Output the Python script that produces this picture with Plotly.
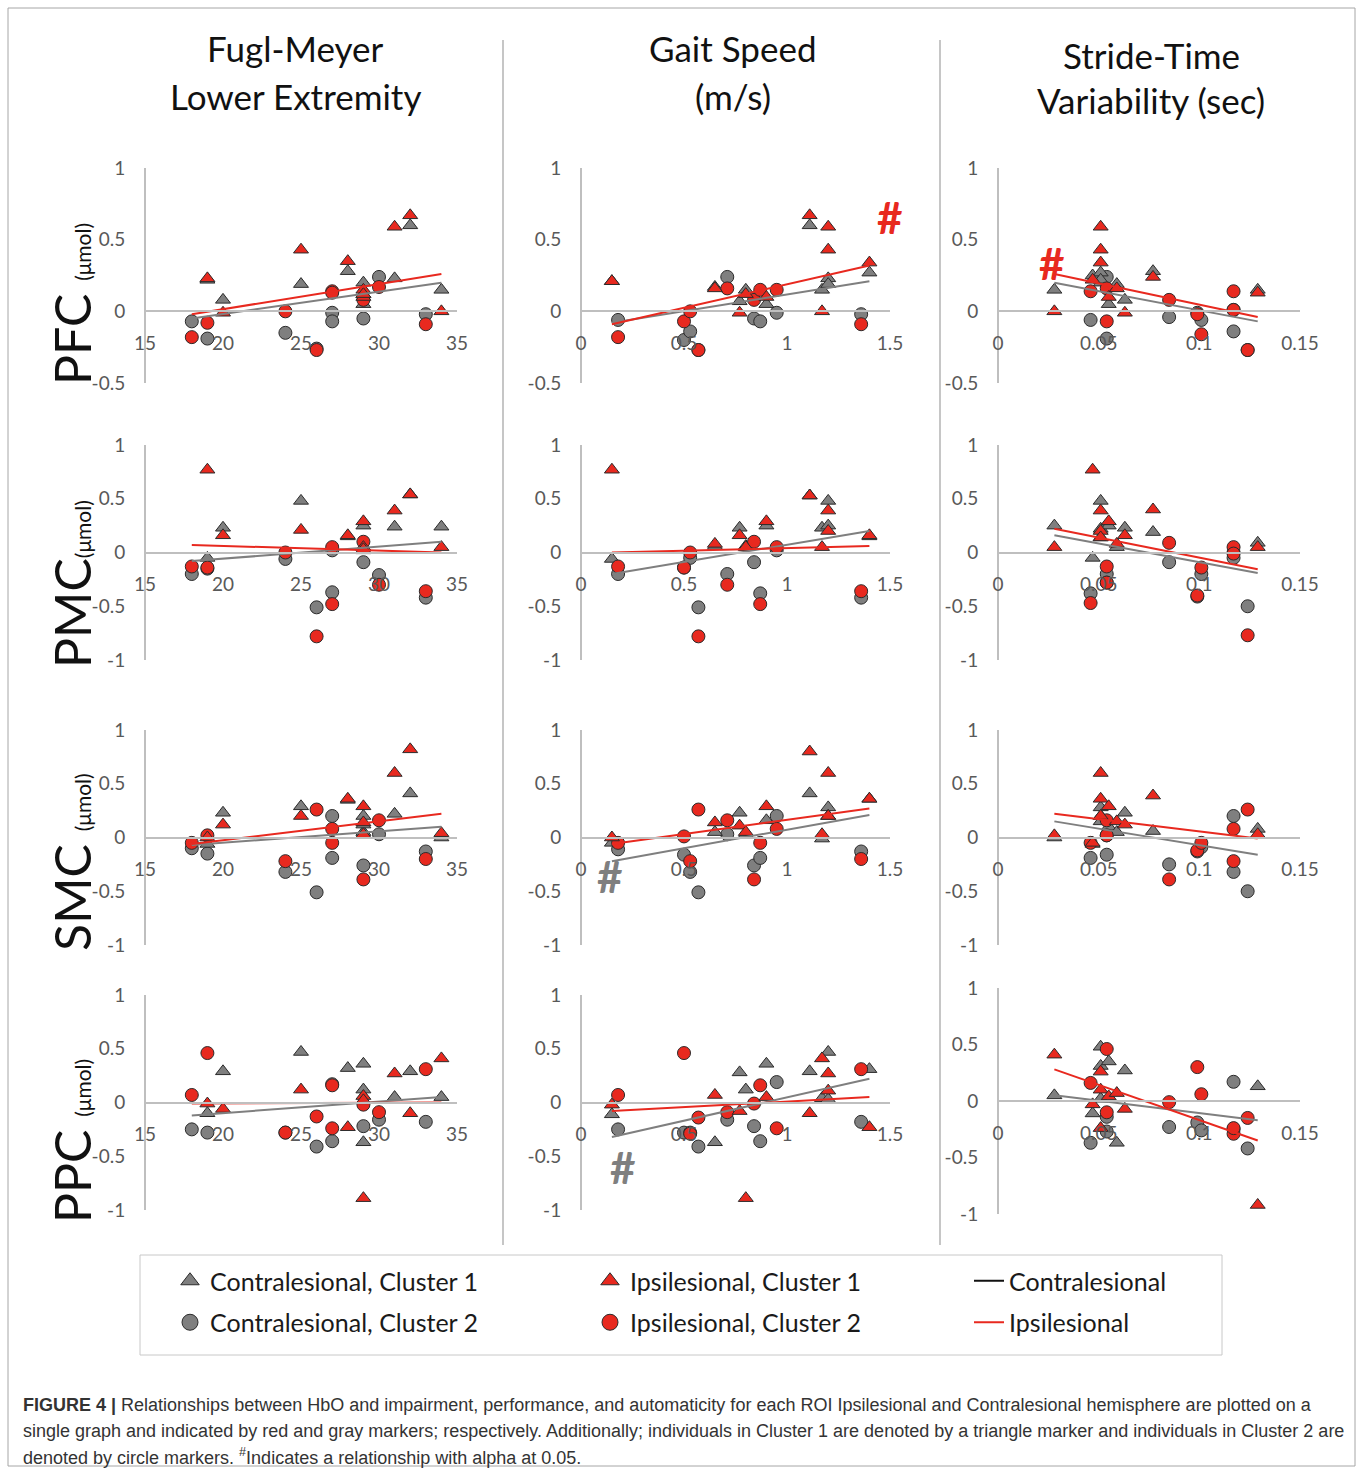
import plotly.graph_objects as go

W, H = 1360, 1473

# ---------------- text ----------------
COL_TITLES = [["Fugl-Meyer", "Lower Extremity"], ["Gait Speed", "(m/s)"], ["Stride-Time", "Variability (sec)"]]
ROW_NAMES = ["PFC", "PMC", "SMC", "PPC"]
ROW_SEP = [" ", "", " ", " "]
UNIT = "(μmol)"
X_TICKS = [[15, 20, 25, 30, 35], [0, 0.5, 1, 1.5], [0, 0.05, 0.1, 0.15]]
X_TICK_TEXT = [["15", "20", "25", "30", "35"], ["0", "0.5", "1", "1.5"], ["0", "0.05", "0.1", "0.15"]]
X_RANGES = [[15, 35], [0, 1.5], [0, 0.15]]
Y_TICKS_TOP = [-0.5, 0, 0.5, 1]
Y_TICK_TEXT_TOP = ["-0.5", "0", "0.5", "1"]
Y_TICKS = [-1, -0.5, 0, 0.5, 1]
Y_TICK_TEXT = ["-1", "-0.5", "0", "0.5", "1"]
LEGEND_NAMES = ["Contralesional, Cluster 1", "Contralesional, Cluster 2",
                "Ipsilesional, Cluster 1", "Ipsilesional, Cluster 2",
                "Contralesional", "Ipsilesional"]
CAPTION = [
    "<b>FIGURE 4 |</b> Relationships between HbO and impairment, performance, and automaticity for each ROI Ipsilesional and Contralesional hemisphere are plotted on a",
    "single graph and indicated by red and gray markers; respectively. Additionally; individuals in Cluster 1 are denoted by a triangle marker and individuals in Cluster 2 are",
    "denoted by circle markers. <sup>#</sup>Indicates a relationship with alpha at 0.05.",
]

# ---------------- x values (subjects) per column ----------------
FM_C1 = [19, 20, 25, 28, 29, 29, 29, 31, 32, 34]
FM_C2 = [18, 19, 24, 26, 27, 27, 29, 30, 33]
GS_C1 = [0.15, 0.65, 0.77, 0.80, 0.90, 1.11, 1.17, 1.20, 1.20, 1.40]
GS_C2 = [0.18, 0.50, 0.53, 0.57, 0.71, 0.84, 0.87, 0.95, 1.36]
ST_C1 = [0.028, 0.047, 0.051, 0.051, 0.051, 0.055, 0.059, 0.063, 0.077, 0.129]
ST_C2 = [0.046, 0.054, 0.054, 0.085, 0.099, 0.101, 0.117, 0.117, 0.124]

# ---------------- HbO values ----------------
PFC_FM_CON_C1 = [0.22, 0.08, 0.19, 0.28, 0.20, 0.05, 0.12, 0.23, 0.60, 0.15]
PFC_FM_IPS_C1 = [0.23, -0.01, 0.43, 0.35, 0.15, 0.10, 0.12, 0.59, 0.67, 0.00]
PFC_FM_CON_C2 = [-0.07, -0.19, -0.15, -0.26, -0.01, -0.07, -0.05, 0.24, -0.02]
PFC_FM_IPS_C2 = [-0.18, -0.08, 0.00, -0.27, 0.14, 0.13, 0.08, 0.17, -0.09]
PFC_GS_CON_C1 = [0.21, 0.17, 0.07, 0.15, 0.05, 0.60, 0.15, 0.23, 0.19, 0.27]
PFC_GS_IPS_C1 = [0.21, 0.16, -0.01, 0.12, 0.10, 0.67, 0.00, 0.59, 0.43, 0.34]
PFC_GS_CON_C2 = [-0.06, -0.20, -0.14, -0.27, 0.24, -0.05, -0.07, -0.01, -0.02]
PFC_GS_IPS_C2 = [-0.18, -0.07, 0.00, -0.27, 0.16, 0.08, 0.15, 0.15, -0.09]
PFC_ST_CON_C1 = [0.15, 0.25, 0.27, 0.20, 0.22, 0.05, 0.19, 0.08, 0.28, 0.15]
PFC_ST_IPS_C1 = [0.00, 0.22, 0.59, 0.43, 0.34, 0.10, 0.16, -0.01, 0.24, 0.13]
PFC_ST_CON_C2 = [-0.06, 0.24, -0.19, -0.04, -0.01, -0.06, -0.14, 0.01, -0.27]
PFC_ST_IPS_C2 = [0.14, -0.07, 0.16, 0.08, -0.02, -0.16, 0.14, 0.01, -0.27]

PMC_FM_CON_C1 = [-0.05, 0.23, 0.48, 0.15, 0.25, 0.05, 0.02, 0.24, 0.54, 0.24]
PMC_FM_IPS_C1 = [0.77, 0.16, 0.21, 0.16, 0.29, 0.05, 0.03, 0.39, 0.54, 0.05]
PMC_FM_CON_C2 = [-0.20, -0.15, -0.06, -0.51, -0.37, 0.02, -0.09, -0.21, -0.42]
PMC_FM_IPS_C2 = [-0.13, -0.14, 0.00, -0.78, -0.48, 0.05, 0.10, -0.30, -0.36]
PMC_GS_CON_C1 = [-0.06, 0.06, 0.23, 0.06, 0.25, 0.53, 0.23, 0.48, 0.25, 0.15]
PMC_GS_IPS_C1 = [0.77, 0.08, 0.16, 0.05, 0.29, 0.53, 0.05, 0.39, 0.20, 0.16]
PMC_GS_CON_C2 = [-0.20, -0.14, -0.05, -0.51, -0.20, -0.09, -0.38, 0.02, -0.42]
PMC_GS_IPS_C2 = [-0.13, -0.14, 0.00, -0.78, -0.30, 0.10, -0.48, 0.05, -0.36]
PMC_ST_CON_C1 = [0.25, -0.05, 0.48, 0.14, 0.22, 0.25, 0.05, 0.23, 0.19, 0.09]
PMC_ST_IPS_C1 = [0.05, 0.77, 0.39, 0.20, 0.14, 0.29, 0.08, 0.16, 0.40, 0.05]
PMC_ST_CON_C2 = [-0.38, -0.20, -0.28, -0.09, -0.41, -0.20, -0.05, 0.00, -0.50]
PMC_ST_IPS_C2 = [-0.47, -0.13, -0.28, 0.09, -0.40, -0.14, 0.05, -0.01, -0.77]

SMC_FM_CON_C1 = [-0.06, 0.23, 0.29, 0.35, 0.20, 0.05, 0.12, 0.22, 0.41, 0.00]
SMC_FM_IPS_C1 = [0.00, 0.12, 0.20, 0.36, 0.29, 0.14, 0.03, 0.60, 0.82, 0.04]
SMC_FM_CON_C2 = [-0.10, -0.15, -0.32, -0.51, 0.20, -0.19, -0.26, 0.03, -0.13]
SMC_FM_IPS_C2 = [-0.05, 0.02, -0.22, 0.26, 0.08, -0.05, -0.39, 0.16, -0.20]
SMC_GS_CON_C1 = [-0.05, 0.05, 0.23, 0.03, 0.16, 0.41, -0.01, 0.28, 0.20, 0.36]
SMC_GS_IPS_C1 = [0.00, 0.14, 0.11, 0.05, 0.29, 0.80, 0.03, 0.60, 0.20, 0.36]
SMC_GS_CON_C2 = [-0.11, -0.16, -0.32, -0.51, 0.03, -0.26, -0.19, 0.20, -0.13]
SMC_GS_IPS_C2 = [-0.05, 0.01, -0.22, 0.26, 0.16, -0.39, -0.05, 0.08, -0.20]
SMC_ST_CON_C1 = [0.00, -0.06, 0.28, 0.20, 0.15, 0.10, 0.05, 0.23, 0.06, 0.08]
SMC_ST_IPS_C1 = [0.02, -0.05, 0.60, 0.36, 0.20, 0.29, 0.15, 0.12, 0.39, 0.03]
SMC_ST_CON_C2 = [-0.19, -0.16, 0.02, -0.25, -0.13, -0.09, 0.20, -0.32, -0.50]
SMC_ST_IPS_C2 = [-0.05, 0.16, 0.02, -0.39, -0.12, -0.05, 0.08, -0.22, 0.26]

PPC_FM_CON_C1 = [-0.10, 0.29, 0.47, 0.32, 0.36, 0.12, -0.37, 0.05, 0.29, 0.05]
PPC_FM_IPS_C1 = [-0.01, -0.06, 0.12, -0.23, 0.06, -0.89, 0.02, 0.27, -0.10, 0.41]
PPC_FM_CON_C2 = [-0.25, -0.28, -0.28, -0.41, -0.36, 0.17, -0.22, -0.16, -0.18]
PPC_FM_IPS_C2 = [0.07, 0.46, -0.28, -0.13, 0.16, -0.24, -0.02, -0.09, 0.31]
PPC_GS_CON_C1 = [-0.11, -0.37, 0.28, 0.12, 0.36, 0.29, 0.04, 0.47, 0.03, 0.31]
PPC_GS_IPS_C1 = [-0.02, 0.07, -0.08, -0.89, 0.05, -0.10, 0.41, 0.27, 0.11, -0.23]
PPC_GS_CON_C2 = [-0.25, -0.28, -0.28, -0.41, -0.16, -0.22, -0.36, 0.19, -0.18]
PPC_GS_IPS_C2 = [0.07, 0.46, -0.29, -0.14, -0.09, -0.01, 0.16, -0.24, 0.31]
PPC_ST_CON_C1 = [0.05, -0.11, 0.48, 0.31, 0.02, 0.35, -0.37, 0.27, None, 0.13]
PPC_ST_IPS_C1 = [0.41, -0.03, 0.26, 0.10, -0.24, 0.04, 0.07, -0.07, None, -0.92]
PPC_ST_CON_C2 = [-0.37, -0.14, -0.27, -0.23, -0.19, -0.26, 0.17, -0.25, -0.42]
PPC_ST_IPS_C2 = [0.16, 0.46, -0.10, -0.01, 0.30, 0.06, -0.29, -0.24, -0.15]

# ---------------- trend lines (value at min x, value at max x) ----------------
PFC_FM_TREND_CON = [-0.05, 0.20]
PFC_FM_TREND_IPS = [-0.02, 0.26]
PFC_GS_TREND_CON = [-0.08, 0.21]
PFC_GS_TREND_IPS = [-0.09, 0.32]
PFC_ST_TREND_CON = [0.20, -0.07]
PFC_ST_TREND_IPS = [0.26, -0.04]
PMC_FM_TREND_CON = [-0.08, 0.10]
PMC_FM_TREND_IPS = [0.07, 0.00]
PMC_GS_TREND_CON = [-0.20, 0.20]
PMC_GS_TREND_IPS = [0.00, 0.06]
PMC_ST_TREND_CON = [0.16, -0.19]
PMC_ST_TREND_IPS = [0.22, -0.155]
SMC_FM_TREND_CON = [-0.07, 0.10]
SMC_FM_TREND_IPS = [-0.06, 0.22]
SMC_GS_TREND_CON = [-0.22, 0.21]
SMC_GS_TREND_IPS = [-0.06, 0.27]
SMC_ST_TREND_CON = [0.15, -0.16]
SMC_ST_TREND_IPS = [0.22, -0.01]
PPC_FM_TREND_CON = [-0.12, 0.05]
PPC_FM_TREND_IPS = [-0.01, 0.00]
PPC_GS_TREND_CON = [-0.32, 0.22]
PPC_GS_TREND_IPS = [-0.08, 0.05]
PPC_ST_TREND_CON = [0.05, -0.17]
PPC_ST_TREND_IPS = [0.28, -0.35]

X_COLS = [(FM_C1, FM_C2), (GS_C1, GS_C2), (ST_C1, ST_C2)]
GRID = [
    [(PFC_FM_CON_C1, PFC_FM_IPS_C1, PFC_FM_CON_C2, PFC_FM_IPS_C2, PFC_FM_TREND_CON, PFC_FM_TREND_IPS),
     (PFC_GS_CON_C1, PFC_GS_IPS_C1, PFC_GS_CON_C2, PFC_GS_IPS_C2, PFC_GS_TREND_CON, PFC_GS_TREND_IPS),
     (PFC_ST_CON_C1, PFC_ST_IPS_C1, PFC_ST_CON_C2, PFC_ST_IPS_C2, PFC_ST_TREND_CON, PFC_ST_TREND_IPS)],
    [(PMC_FM_CON_C1, PMC_FM_IPS_C1, PMC_FM_CON_C2, PMC_FM_IPS_C2, PMC_FM_TREND_CON, PMC_FM_TREND_IPS),
     (PMC_GS_CON_C1, PMC_GS_IPS_C1, PMC_GS_CON_C2, PMC_GS_IPS_C2, PMC_GS_TREND_CON, PMC_GS_TREND_IPS),
     (PMC_ST_CON_C1, PMC_ST_IPS_C1, PMC_ST_CON_C2, PMC_ST_IPS_C2, PMC_ST_TREND_CON, PMC_ST_TREND_IPS)],
    [(SMC_FM_CON_C1, SMC_FM_IPS_C1, SMC_FM_CON_C2, SMC_FM_IPS_C2, SMC_FM_TREND_CON, SMC_FM_TREND_IPS),
     (SMC_GS_CON_C1, SMC_GS_IPS_C1, SMC_GS_CON_C2, SMC_GS_IPS_C2, SMC_GS_TREND_CON, SMC_GS_TREND_IPS),
     (SMC_ST_CON_C1, SMC_ST_IPS_C1, SMC_ST_CON_C2, SMC_ST_IPS_C2, SMC_ST_TREND_CON, SMC_ST_TREND_IPS)],
    [(PPC_FM_CON_C1, PPC_FM_IPS_C1, PPC_FM_CON_C2, PPC_FM_IPS_C2, PPC_FM_TREND_CON, PPC_FM_TREND_IPS),
     (PPC_GS_CON_C1, PPC_GS_IPS_C1, PPC_GS_CON_C2, PPC_GS_IPS_C2, PPC_GS_TREND_CON, PPC_GS_TREND_IPS),
     (PPC_ST_CON_C1, PPC_ST_IPS_C1, PPC_ST_CON_C2, PPC_ST_IPS_C2, PPC_ST_TREND_CON, PPC_ST_TREND_IPS)],
]

# significance marks: (row, col, x, y, hemisphere)
HASH_MARKS = [(0, 1, 1.50, 0.66, "ips"), (0, 2, 0.027, 0.34, "ips"),
              (2, 1, 0.14, -0.36, "con"), (3, 1, 0.205, -0.60, "con")]

# ---------------- styling / layout ----------------
GRAY = "#7f7f7f"
RED = "#e8291f"
EDGE = "#2b2b2b"
AXIS = "#bfbfbf"
TICKC = "#595959"
FONT = "Lato"

COL_X_PX = [(145, 457), (581, 890), (998, 1300)]
ROW_Y_PX = [(168, 383), (445, 660), (730, 945), (995, 1210)]


def px(p):
    return p / W


def py(p):
    return 1 - p / H


fig = go.Figure()
layout = {}

for r in range(4):
    for c in range(3):
        k = r * 3 + c + 1
        xs = "" if k == 1 else str(k)
        x0, x1 = COL_X_PX[c]
        t, b = ROW_Y_PX[r]
        if r == 3 and c == 2:
            t, b = 988, 1214
        yr = [-0.5, 1] if r == 0 else [-1, 1]
        yt = Y_TICKS_TOP if r == 0 else Y_TICKS
        ytt = Y_TICK_TEXT_TOP if r == 0 else Y_TICK_TEXT
        zero_px = t + (yr[1] - 0) / (yr[1] - yr[0]) * (b - t)
        layout["xaxis" + xs] = dict(
            domain=[px(x0), px(x1)], range=X_RANGES[c], anchor="free", position=py(zero_px),
            showline=True, linecolor=AXIS, linewidth=2, showgrid=False, zeroline=False,
            tickvals=X_TICKS[c], ticktext=X_TICK_TEXT[c], ticks="outside", ticklen=15,
            tickcolor="rgba(0,0,0,0)", automargin=False,
            tickfont=dict(family=FONT, size=19, color=TICKC), fixedrange=True)
        layout["yaxis" + xs] = dict(
            domain=[py(b), py(t)], range=yr, anchor="free", position=px(x0),
            showline=True, linecolor=AXIS, linewidth=2, showgrid=False, zeroline=False,
            tickvals=yt, ticktext=ytt, ticks="outside", ticklen=15, tickcolor="rgba(0,0,0,0)",
            automargin=False,
            tickfont=dict(family=FONT, size=19, color=TICKC), fixedrange=True)

        xc1, xc2 = X_COLS[c]
        con1, ips1, con2, ips2, tcon, tips = GRID[r][c]
        xa, ya = "x" + xs, "y" + xs
        for xv, yv, sym, col in [(xc2, con2, "circle", GRAY), (xc1, con1, "triangle-up", GRAY),
                                 (xc2, ips2, "circle", RED), (xc1, ips1, "triangle-up", RED)]:
            fig.add_trace(go.Scatter(
                x=xv, y=yv, mode="markers", xaxis=xa, yaxis=ya, showlegend=False,
                hoverinfo="skip",
                marker=dict(symbol=sym, size=13, color=col, line=dict(color=EDGE, width=1))))
        allx = list(xc1) + list(xc2)
        ext = [min(allx), max(allx)]
        for tv, col in [(tcon, GRAY), (tips, RED)]:
            fig.add_trace(go.Scatter(
                x=ext, y=tv, mode="lines", xaxis=xa, yaxis=ya, showlegend=False,
                hoverinfo="skip", line=dict(color=col, width=2)))

# legend entries (no data)
LEG_STYLE = [("legend", "triangle-up", GRAY, "markers"), ("legend", "circle", GRAY, "markers"),
             ("legend2", "triangle-up", RED, "markers"), ("legend2", "circle", RED, "markers"),
             ("legend3", None, "#111111", "lines"), ("legend3", None, RED, "lines")]
for i, (name, (lg, sym, col, mode)) in enumerate(zip(LEGEND_NAMES, LEG_STYLE)):
    if mode == "markers":
        fig.add_trace(go.Scatter(x=[None], y=[None], mode="markers", name=name, legend=lg,
                                 legendgroup="g%d" % i,
                                 marker=dict(symbol=sym, size=16, color=col, line=dict(color=EDGE, width=1))))
    else:
        fig.add_trace(go.Scatter(x=[None], y=[None], mode="lines", name=name, legend=lg,
                                 legendgroup="g%d" % i, line=dict(color=col, width=2)))

annotations = []
# column titles
TITLE_Y = [(48, 96), (48, 96), (55, 100)]
TITLE_X = [295, 733, 1151]
for c in range(3):
    for j in range(2):
        annotations.append(dict(text=COL_TITLES[c][j], x=px(TITLE_X[c]), y=py(TITLE_Y[c][j]),
                                xref="paper", yref="paper", showarrow=False,
                                xanchor="center", yanchor="middle",
                                font=dict(family=FONT, size=35, color="#111111")))
# row labels
ROW_Y = [304, 584, 862, 1141]
for r in range(4):
    annotations.append(dict(
        text=ROW_NAMES[r] + ROW_SEP[r] + "<span style='font-size:21px'>" + UNIT + "</span>",
        x=px(72), y=py(ROW_Y[r]), xref="paper", yref="paper", showarrow=False,
        textangle=-90, xanchor="center", yanchor="middle",
        font=dict(family=FONT, size=50, color="#111111")))
# significance marks
for (r, c, hx, hy, hemi) in HASH_MARKS:
    k = r * 3 + c + 1
    xs = "" if k == 1 else str(k)
    annotations.append(dict(text="<b>#</b>", x=hx, y=hy, xref="x" + xs, yref="y" + xs,
                            showarrow=False, xanchor="center", yanchor="middle",
                            font=dict(family=FONT, size=44, color=RED if hemi == "ips" else GRAY)))
# caption
CAP_Y = [1405, 1431, 1456]
for j, line in enumerate(CAPTION):
    annotations.append(dict(text=line, x=px(21), y=py(CAP_Y[j]), xref="paper", yref="paper",
                            showarrow=False, xanchor="left", yanchor="middle", align="left",
                            font=dict(family="Liberation Sans", size=18, color="#333333")))

shapes = [
    dict(type="rect", xref="paper", yref="paper", x0=px(8), x1=px(1355), y0=py(1466), y1=py(8),
         line=dict(color="#a6a6a6", width=1)),
    dict(type="line", xref="paper", yref="paper", x0=px(503), x1=px(503), y0=py(1245), y1=py(40),
         line=dict(color="#b3b3b3", width=1.5)),
    dict(type="line", xref="paper", yref="paper", x0=px(940), x1=px(940), y0=py(1245), y1=py(40),
         line=dict(color="#b3b3b3", width=1.5)),
    dict(type="rect", xref="paper", yref="paper", x0=px(140), x1=px(1222), y0=py(1355), y1=py(1255),
         line=dict(color="#c8c8c8", width=1)),
]

leg_common = dict(yanchor="top", xanchor="left", y=py(1258), bgcolor="rgba(0,0,0,0)",
                  font=dict(family=FONT, size=25, color="#1a1a1a"), tracegroupgap=6,
                  orientation="v", itemclick=False, itemdoubleclick=False)
layout["legend"] = dict(x=px(170), **leg_common)
layout["legend2"] = dict(x=px(590), **leg_common)
layout["legend3"] = dict(x=px(969), **leg_common)

fig.update_layout(
    width=W, height=H, margin=dict(l=0, r=0, t=0, b=0, pad=0, autoexpand=False),
    paper_bgcolor="white", plot_bgcolor="white",
    annotations=annotations, shapes=shapes, showlegend=True, hovermode=False,
    **layout)

fig.write_html("out.html", config={"displayModeBar": False},
               post_script="document.body.style.margin='0px';")
